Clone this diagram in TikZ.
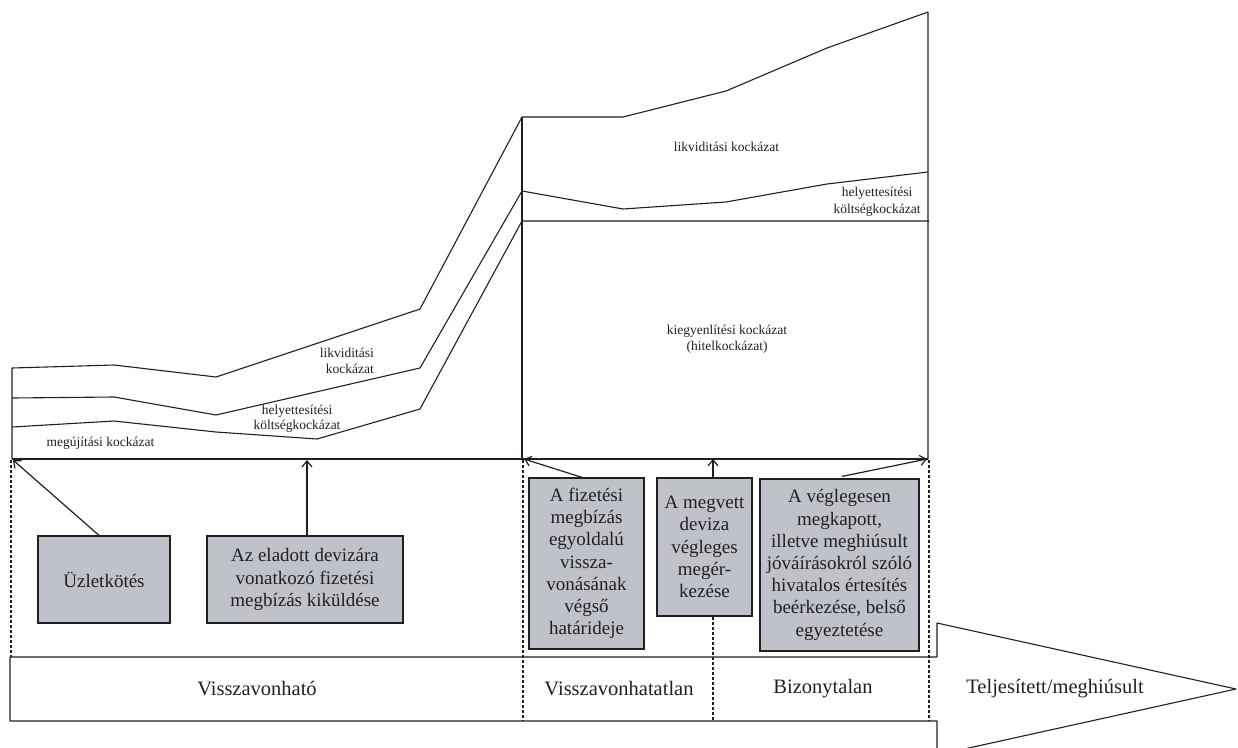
\documentclass[tikz,border=0pt]{standalone}
\usepackage{fontspec}
\setmainfont{Liberation Serif}
\usetikzlibrary{arrows.meta}
\definecolor{boxgray}{RGB}{192,194,202}
\definecolor{ink}{RGB}{35,31,32}
\tikzset{
  curve/.style={draw=ink, line width=1.1pt, line join=round},
  guide/.style={draw=ink, line width=1.1pt, dash pattern=on 3pt off 2pt},
  eventbox/.style={draw=ink, fill=boxgray, line width=1.2pt, inner sep=0pt, align=center,
    text=ink, font=\fontsize{19}{22.2}\selectfont},
  risklabel/.style={inner sep=0pt, text=ink, font=\fontsize{13.5}{15.5}\selectfont},
  phaselabel/.style={inner sep=0pt, text=ink, font=\fontsize{20.5}{24}\selectfont},
  pointer/.style={draw=ink, line width=1.2pt, -{Straight Barb[length=6pt,width=10pt]}},
}
\begin{document}
\begin{tikzpicture}[x=1pt,y=-1pt]
\useasboundingbox (0,0) rectangle (1238,747);
\clip (0,0) rectangle (1238,747);
% risk curves
\draw[curve] (12,459) -- (12,368) -- (114,365) -- (216,377) -- (420,309) -- (522,117)
   -- (623,117) -- (726,91) -- (827,48) -- (928,12) -- (928,459);
\draw[curve] (12,398) -- (114,397) -- (216,415) -- (420,368) -- (522,191)
   -- (623,209) -- (726,202) -- (827,184) -- (928,172);
\draw[curve] (12,427) -- (114,421) -- (216,432) -- (317,439) -- (420,409) -- (522,221) -- (929,221);
\draw[curve] (522,117) -- (522,459);
\draw[curve] (12,459) -- (928,459);
% phase band with arrow
\draw[curve] (10,657) -- (937,657) -- (937,623) -- (1236,689) -- (937,755) -- (937,721) -- (10,721) -- cycle;
% risk labels
\node[risklabel, align=right, anchor=east] (likv1) at (374,361) {likviditási\\kockázat};
\node[risklabel, align=center] (hely1) at (297,419) {helyettesítési\\költségkockázat};
\node[risklabel] (megu) at (100.5,443) {megújítási kockázat};
\node[risklabel] (likv2) at (726.5,147) {likviditási kockázat};
\node[risklabel, align=center, font=\fontsize{13.5}{17.5}\selectfont] (hely2) at (877,202) {helyettesítési\\költségkockázat};
\node[risklabel, align=center, font=\fontsize{13.5}{16}\selectfont] (kiegy) at (727,339) {kiegyenlítési kockázat\\(hitelkockázat)};
% event boxes
\node[eventbox, minimum width=132pt, minimum height=87pt] (b1) at (104,579.5) {Üzletkötés};
\node[eventbox, minimum width=196pt, minimum height=87pt] (b2) at (305,579.5) {Az eladott devizára\\vonatkozó fizetési\\megbízás kiküldése};
\node[eventbox, minimum width=115pt, minimum height=171pt] (b3) at (586.5,563.5) {A fizetési\\megbízás\\egyoldalú\\vissza-\\vonásának\\végső\\határideje};
\node[eventbox, minimum width=95pt, minimum height=138pt] (b4) at (704.5,547) {A megvett\\deviza\\végleges\\megér-\\kezése};
\node[eventbox, minimum width=159pt, minimum height=172pt] (b5) at (839.5,565) {A véglegesen\\megkapott,\\illetve meghiúsult\\jóváírásokról szóló\\hivatalos értesítés\\beérkezése, belső\\egyeztetése};
% arrow targets
\coordinate (t1) at (13,460);
\coordinate (t2) at (307,460);
\coordinate (t3) at (524,459);
\coordinate (t4) at (713,459);
\coordinate (t5) at (927,459);
\draw[pointer] ([xshift=-5pt]b1.north) -- (t1);
\draw[pointer] ([xshift=2pt]b2.north) -- (t2);
\draw[pointer] ([xshift=-4.5pt]b3.north) -- (t3);
\draw[pointer] ([xshift=8.5pt]b4.north) -- (t4);
\draw[pointer] ([xshift=2.5pt,yshift=2pt]b5.north) -- (t5);
% dashed phase separators
\draw[guide] (11,460) -- (11,657);
\draw[guide] (523,460) -- (523,721);
\draw[guide] ([xshift=8.5pt]b4.south) -- (713,721);
\draw[guide] (929,460) -- (929,721);
% phase labels
\node[phaselabel] (p1) at (257,689) {Visszavonható};
\node[phaselabel] (p2) at (619,689) {Visszavonhatatlan};
\node[phaselabel] (p3) at (823,689) {Bizonytalan};
\node[phaselabel] (p4) at (1055,689) {Teljesített/meghiúsult};
\end{tikzpicture}
\end{document}
